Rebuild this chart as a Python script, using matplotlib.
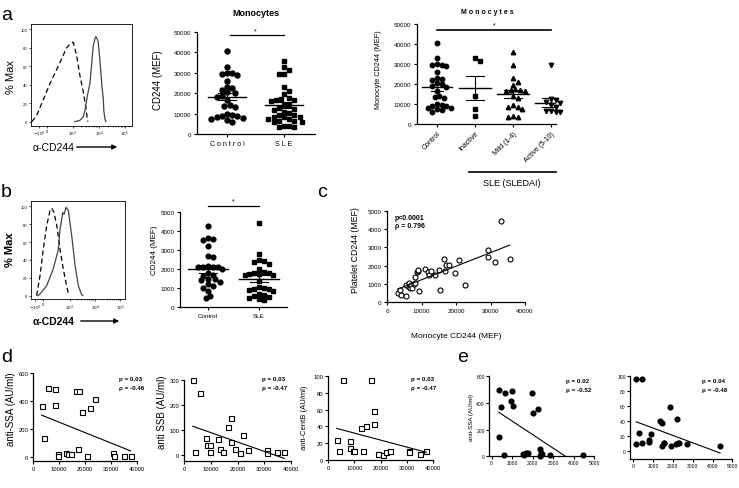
import numpy as np
import matplotlib.pyplot as plt
from matplotlib.lines import Line2D

plt.rcParams['font.family'] = ['Liberation Sans', 'DejaVu Sans']

W, H = 739, 489

########################## DATA ##########################
# a: monocyte CD244 (MEF)
mono_control = [40500, 33000, 30000, 29700, 29500, 28800, 25800, 23200, 22500, 21800,
                20500, 20000, 18800, 18300, 16500, 14200, 13500, 13000, 9800, 9500,
                9000, 8800, 8200, 7800, 7500, 6800, 5800]
mono_inactive = [33000, 31500, 14000, 7500, 3800]
mono_mild = [36000, 29300, 22800, 21000, 19500, 17500, 17000, 16800, 16500, 16300,
             14200, 12800, 9300, 8500, 8300, 7500, 4000, 3600, 3500]
mono_active = [29500, 12500, 12000, 11000, 10500, 9500, 8500, 6500, 6300, 6000, 5800]
mono_sle = mono_inactive + mono_mild + mono_active
sledai_labels = ["Control", "Inactive", "Mild (1-4)", "Active (5-10)"]

# b: platelet CD244 (MEF)
plat_control = [4280, 3620, 3560, 3520, 3200, 2680, 2620, 2150, 2120, 2100, 2100, 2080,
                2000, 1800, 1700, 1650, 1500, 1450, 1400, 1300, 1200, 1100, 1000, 850,
                600, 500]
plat_sle = [4420, 2800, 2450, 2400, 2350, 2250, 2000, 1850, 1800, 1780, 1750, 1720, 1700,
            1680, 1350, 1050, 1000, 950, 950, 900, 850, 700, 650, 600, 550, 500, 400, 380]

# c: monocyte vs platelet CD244
corr_mono = [3100, 3700, 4100, 5500, 5600, 6500, 6300, 6800, 7100, 7300, 7800, 8100,
             8000, 8600, 9000, 9000, 9300, 11000, 11900, 12100, 12800, 14000, 15000,
             15400, 16600, 16900, 17100, 17900, 19800, 20800, 22500, 29200, 29200,
             31200, 33000, 35600]
corr_plat = [500, 660, 390, 350, 940, 1030, 830, 790, 920, 780, 980, 1350, 1020, 1640,
             1730, 1770, 610, 1830, 1660, 1510, 1730, 1510, 1770, 650, 2380, 1730, 2010,
             2030, 1600, 2290, 960, 2860, 2450, 2200, 4460, 2380]

# d: monocyte CD244 vs autoantibodies
d_mono = [3300, 4200, 5900, 8400, 8500, 9600, 9800, 12700, 13500, 14600, 16400, 17400,
          17700, 18900, 20800, 22100, 23800, 30900, 31000, 34900, 37500]
d_ssa = [365, 139, 492, 485, 374, 22, 10, 26, 22, 22, 468, 55, 473, 319, 10, 348, 413,
         29, 10, 10, 10]
d_ssb = [298, 12, 248, 66, 39, 39, 12, 62, 23, 12, 111, 50, 147, 21, 8, 78, 19, 19, 8,
         10, 12]
d_centb = [24, 10, 96, 22, 14, 11, 11, 38, 11, 40, 96, 43, 58, 7, 6, 9, 11, 10, 9, 7, 10]

# e: platelet CD244 vs autoantibodies
e_plat_ssa = [340, 470, 370, 580, 650, 940, 990, 1040, 1510, 1590, 1670, 1750, 1980,
              2010, 2250, 2370, 2370, 2400, 2430, 2820, 4460]
e_ssa = [497, 367, 142, 10, 472, 417, 487, 377, 20, 10, 25, 22, 475, 322, 352, 55, 5,
         27, 17, 10, 10]
e_plat_centb = [150, 455, 270, 150, 420, 790, 810, 875, 1350, 1465, 1430, 1570, 1570,
                1850, 1890, 2220, 2150, 2240, 2300, 2690, 4380]
e_centb = [96, 96, 24, 9, 11, 12, 15, 22, 40, 37, 7, 11, 10, 58, 7, 42, 9, 10, 10, 9, 7]

stats_d = [("p = 0.03", "\u03c1 = -0.46"), ("p = 0.03", "\u03c1 = -0.47"),
           ("p = 0.03", "\u03c1 = -0.47")]
stats_e = [("p = 0.02", "\u03c1 = -0.52"), ("p = 0.04", "\u03c1 = -0.48")]

# histograms (biexponential axis in decade units, % of max)
hist_a_iso_x = [-0.56, -0.38, 0.12, 0.50, 0.75, 0.91, 1.0, 1.13, 1.25, 1.38, 1.48, 1.53, 1.55]
hist_a_iso_y = [0, 6.5, 41, 64, 80, 85, 86, 71, 50, 32, 14, 3, 0]
hist_a_cd_x = [1.06, 1.25, 1.37, 1.44, 1.53, 1.63, 1.70, 1.75, 1.82, 1.85, 1.91, 1.94,
               2.0, 2.04, 2.08, 2.13, 2.15, 2.19, 2.23]
hist_a_cd_y = [0, 1.5, 5, 12, 28, 42, 65, 82, 90, 92, 89, 86, 67, 53, 38, 25, 12, 3, 0]
hist_b_iso_x = [-0.26, -0.13, 0, 0.13, 0.26, 0.33, 0.42, 0.55, 0.65, 0.78, 0.91, 1.0]
hist_b_iso_y = [0, 22, 52, 78, 95, 98, 93, 75, 52, 30, 11, 0]
hist_b_cd_x = [-0.21, -0.13, 0.13, 0.39, 0.59, 0.65, 0.76, 0.81, 0.89, 0.98, 1.11, 1.24,
               1.37, 1.5, 1.55]
hist_b_cd_y = [0, 2, 11, 30, 52, 74, 93, 91, 99, 95, 67, 34, 11, 1, 0]
hist_tick_labels = ["$-10^3$", "0", "$10^3$", "$10^4$", "$10^5$"]


########################## HELPERS ##########################
fig = plt.figure(figsize=(W / 100, H / 100), dpi=100)


def add_ax(x0, x1, y0, y1):
    # pixel box (left, right, top, bottom) -> axes
    return fig.add_axes([x0 / W, 1 - y1 / H, (x1 - x0) / W, (y1 - y0) / H])


def ftext(x, y, s, **kw):
    fig.text(x / W, 1 - y / H, s, **kw)


def prism(ax, fs=4.5):
    for s in ("top", "right"):
        ax.spines[s].set_visible(False)
    for s in ("left", "bottom"):
        ax.spines[s].set_linewidth(0.9)
    ax.tick_params(direction="out", length=2.5, width=0.8, labelsize=fs, pad=1.5)


def swarm(vals, px_x, px_y, d):
    # simple beeswarm offsets (in x data units)
    vals = np.asarray(vals, float)
    offs = np.zeros(len(vals))
    placed = []
    step = d * 0.5
    for i in np.argsort(vals)[::-1]:
        y = vals[i] * px_y
        for k in range(80):
            o = ((k + 1) // 2) * step * (1 if k % 2 else -1)
            if all((o - a) ** 2 + (y - b) ** 2 >= d * d for a, b in placed):
                break
        placed.append((o, y))
        offs[i] = o / px_x
    return offs


def mean_sem(ax, x, vals, hw, hws, lw=1.0):
    vals = np.asarray(vals, float)
    m = vals.mean()
    s = vals.std(ddof=1) / np.sqrt(len(vals))
    ax.plot([x - hw, x + hw], [m, m], color="k", lw=lw, zorder=4)
    ax.plot([x - hws, x + hws], [m + s, m + s], color="k", lw=lw * 0.8, zorder=4)
    ax.plot([x - hws, x + hws], [m - s, m - s], color="k", lw=lw * 0.8, zorder=4)
    ax.plot([x, x], [m - s, m + s], color="k", lw=lw * 0.8, zorder=4)


def dots(ax, x, vals, marker, px_x, px_y, d, ms):
    off = swarm(vals, px_x, px_y, d)
    ax.plot(x + off, vals, ls="none", marker=marker, ms=ms, color="k", mec="k",
            clip_on=False, zorder=3)


def fit_line(ax, x, y, lw=0.8):
    x = np.asarray(x, float)
    y = np.asarray(y, float)
    k, b = np.polyfit(x, y, 1)
    xs = np.array([x.min(), x.max()])
    ax.plot(xs, k * xs + b, color="k", lw=lw)


def histo(ax, iso_x, iso_y, cd_x, cd_y, ticks, xlim, ylim):
    ax.plot(iso_x, iso_y, color="k", lw=0.9, ls=(0, (4, 2.5)))
    ax.plot(cd_x, cd_y, color="#444444", lw=0.9)
    ax.set_xlim(*xlim)
    ax.set_ylim(*ylim)
    for s in ax.spines.values():
        s.set_linewidth(0.6)
    ax.set_xticks(ticks)
    ax.set_xticklabels(hist_tick_labels)
    minor = [t for dec in (1, 2) for t in dec + np.log10(np.arange(2, 10))]
    ax.set_xticks(minor, minor=True)
    ax.set_yticks([0, 20, 40, 60, 80, 100])
    ax.tick_params(direction="out", length=1.5, width=0.5, labelsize=3, pad=1)
    ax.tick_params(which="minor", length=1, width=0.4)


########################## PANEL a ##########################
ax = add_ax(31, 132, 25, 126.7)
histo(ax, hist_a_iso_x, hist_a_iso_y, hist_a_cd_x, hist_a_cd_y,
      [-0.29, 0, 0.98, 1.98, 2.94], (-0.59, 3.21), (-4.3, 105.7))
ftext(11, 77, "% Max", rotation=90, ha="center", va="center", fontsize=8)
ftext(33, 148, "\u03b1-CD244", ha="left", va="center", fontsize=7.5)
ax.annotate("", xy=(120 / W, 1 - 148 / H), xytext=(74 / W, 1 - 148 / H),
            xycoords="figure fraction", textcoords="figure fraction",
            arrowprops=dict(arrowstyle="-|>", lw=1.0, color="k", mutation_scale=7))

# a middle: monocytes control vs SLE
ax = add_ax(197, 315, 33, 135)
prism(ax)
ax.set_xlim(-0.526, 1.544)
ax.set_ylim(0, 50000)
dots(ax, 0, mono_control, "o", 57, 102 / 50000, 5.2, 3.6)
dots(ax, 1, mono_sle, "s", 57, 102 / 50000, 5.2, 3.4)
mean_sem(ax, 0, mono_control, 0.34, 0.15)
mean_sem(ax, 1, mono_sle, 0.34, 0.15)
ax.set_xticks([0, 1])
ax.set_xticklabels(["C o n t r o l", "S L E"], fontsize=5)
ax.set_yticks(range(0, 50001, 10000))
ax.plot([0.05, 1.0], [48400, 48400], color="k", lw=0.9, clip_on=False)
ax.text(0.5, 49000, "*", ha="center", va="bottom", fontsize=5)
ftext(158, 80, "CD244 (MEF)", rotation=90, ha="center", va="center", fontsize=7)
ftext(256, 14, "Monocytes", ha="center", va="center", fontsize=6.5, fontweight="bold")

# a right: SLEDAI groups
ax = add_ax(417, 556, 25, 125)
prism(ax)
ax.set_xlim(-0.526, 3.13)
ax.set_ylim(0, 50000)
groups = [mono_control, mono_inactive, mono_mild, mono_active]
markers = ["o", "s", "^", "v"]
for i, (g, mk) in enumerate(zip(groups, markers)):
    dots(ax, i, g, mk, 38, 100 / 50000, 4.6, 3.2)
    mean_sem(ax, i, g, 0.42 if i else 0.39, 0.24 if i else 0.15)
ax.set_xticks(range(4))
ax.set_xticklabels(sledai_labels, rotation=45, ha="right", rotation_mode="anchor", fontsize=5)
ax.set_yticks(range(0, 50001, 10000))
ax.plot([0, 3], [47000, 47000], color="k", lw=1.2, clip_on=False)
ax.text(1.5, 47800, "*", ha="center", va="bottom", fontsize=5)
ftext(378, 70, "Monocyte CD244 (MEF)", rotation=90, ha="center", va="center", fontsize=5.2)
ftext(487, 13, "M o n o c y t e s", ha="center", va="center", fontsize=5, fontweight="bold")
fig.add_artist(Line2D([469 / W, 556 / W], [1 - 173 / H, 1 - 173 / H], color="k", lw=1.2))
ftext(512, 183, "SLE (SLEDAI)", ha="center", va="center", fontsize=6.5)

########################## PANEL b ##########################
ax = add_ax(31, 125, 201.7, 300)
histo(ax, hist_b_iso_x, hist_b_iso_y, hist_b_cd_x, hist_b_cd_y,
      [-0.33, 0, 1.04, 2.02, 3.0], (-0.48, 3.19), (-3.7, 106.3))
ftext(10, 250, "% Max", rotation=90, ha="center", va="center", fontsize=8, fontweight="bold")
ftext(33, 322, "\u03b1-CD244", ha="left", va="center", fontsize=7.5, fontweight="bold")
ax.annotate("", xy=(122 / W, 1 - 322 / H), xytext=(78 / W, 1 - 322 / H),
            xycoords="figure fraction", textcoords="figure fraction",
            arrowprops=dict(arrowstyle="-|>", lw=1.0, color="k", mutation_scale=7))

ax = add_ax(180, 287, 213, 308)
prism(ax)
ax.set_xlim(-0.549, 1.549)
ax.set_ylim(0, 5000)
dots(ax, 0, plat_control, "o", 51, 95 / 5000, 4.8, 3.4)
dots(ax, 1, plat_sle, "s", 51, 95 / 5000, 4.8, 3.2)
mean_sem(ax, 0, plat_control, 0.4, 0.17)
mean_sem(ax, 1, plat_sle, 0.4, 0.17)
ax.set_xticks([0, 1])
ax.set_xticklabels(["Control", "SLE"], fontsize=4.5)
ax.set_yticks(range(0, 5001, 1000))
ax.plot([0, 1], [5320, 5320], color="k", lw=0.9, clip_on=False)
ax.text(0.5, 5380, "*", ha="center", va="bottom", fontsize=5)
ftext(155, 250, "CD244 (MEF)", rotation=90, ha="center", va="center", fontsize=5.8)

########################## PANEL c ##########################
ax = add_ax(387, 525, 212, 303)
prism(ax)
ax.set_xlim(0, 40000)
ax.set_ylim(0, 5000)
ax.plot(corr_mono, corr_plat, ls="none", marker="o", ms=3.6, mfc="white", mec="k",
        mew=0.8, clip_on=False)
fit_line(ax, corr_mono, corr_plat)
ax.set_xticks(range(0, 40001, 10000))
ax.set_yticks(range(0, 5001, 1000))
ftext(355, 250, "Platelet CD244 (MEF)", rotation=90, ha="center", va="center", fontsize=6.3)
ftext(456, 337, "Monocyte CD244 (MEF)", ha="center", va="center", fontsize=6)
ftext(395, 218, "p<0.0001", ha="left", va="center", fontsize=5, fontweight="bold")
ftext(395, 227, "\u03c1 = 0.796", ha="left", va="center", fontsize=5, fontweight="bold")

########################## PANEL d ##########################
d_boxes = [(33, 137, 374, 461.7), (184, 291, 381, 461.7), (328, 433, 377.3, 460.7)]
d_ylims = [(-26, 600), (-24, 300), (0, 100)]
d_yticks = [range(0, 601, 200), range(0, 301, 100), range(0, 101, 20)]
d_vals = [d_ssa, d_ssb, d_centb]
d_ylabels = ["anti-SSA (AU/ml)", "anti SSB (AU/ml)", "anti-CentB (AU/ml)"]
d_ylabel_pos = [(11, 409, 7), (162, 412, 7), (304, 418, 5.5)]
d_text_x = [119, 262, 411]
for box, yl, yt, vals, lab, lp, tx, st in zip(d_boxes, d_ylims, d_yticks, d_vals,
                                              d_ylabels, d_ylabel_pos, d_text_x, stats_d):
    ax = add_ax(*box)
    prism(ax, fs=4.2)
    ax.set_xlim(0, 40000)
    ax.set_ylim(*yl)
    ax.plot(d_mono, vals, ls="none", marker="s", ms=3.6, mfc="white", mec="k",
            mew=0.8, clip_on=False)
    fit_line(ax, d_mono, vals)
    ax.set_xticks(range(0, 40001, 10000))
    ax.set_yticks(yt)
    ax.spines["left"].set_bounds(yl[0], yl[1])
    ax.tick_params(axis="y", pad=1)
    ftext(lp[0], lp[1], lab, rotation=90, ha="center", va="center", fontsize=lp[2])
    ftext(tx, 380, st[0], ha="left", va="center", fontsize=4.5, fontweight="bold")
    ftext(tx, 389, st[1], ha="left", va="center", fontsize=4.5, fontweight="bold")

########################## PANEL e ##########################
e_boxes = [(489, 594.3, 377.3, 457.3), (630, 732.3, 376.7, 460)]
e_xlims = [(-130, 5000), (-167, 5000)]
e_ylims = [(0, 600), (-10.6, 100)]
e_yticks = [range(0, 601, 200), range(0, 101, 20)]
e_x = [e_plat_ssa, e_plat_centb]
e_y = [e_ssa, e_centb]
e_text_x = [566, 702]
for box, xl, yl, yt, xs, ys, tx, st in zip(e_boxes, e_xlims, e_ylims, e_yticks, e_x, e_y,
                                           e_text_x, stats_e):
    ax = add_ax(*box)
    prism(ax, fs=3.6)
    ax.tick_params(length=2, pad=1)
    ax.set_xlim(*xl)
    ax.set_ylim(*yl)
    ax.plot(xs, ys, ls="none", marker="o", ms=3.4, color="k", clip_on=False)
    fit_line(ax, xs, ys)
    ax.set_xticks(range(0, 5001, 1000))
    ax.set_yticks(yt)
    ftext(tx, 381, st[0], ha="left", va="center", fontsize=4.5, fontweight="bold")
    ftext(tx, 391, st[1], ha="left", va="center", fontsize=4.5, fontweight="bold")
ftext(472, 418, "anti-SSA (AU/ml)", rotation=90, ha="center", va="center", fontsize=4.5)

########################## PANEL LETTERS ##########################
for letter, x, y in [("a", 1, 20), ("b", 1, 197), ("c", 317, 197), ("d", 1, 362), ("e", 457, 362)]:
    ftext(x, y, letter, ha="left", va="baseline", fontsize=14)

fig.savefig("out.png", dpi=100)
